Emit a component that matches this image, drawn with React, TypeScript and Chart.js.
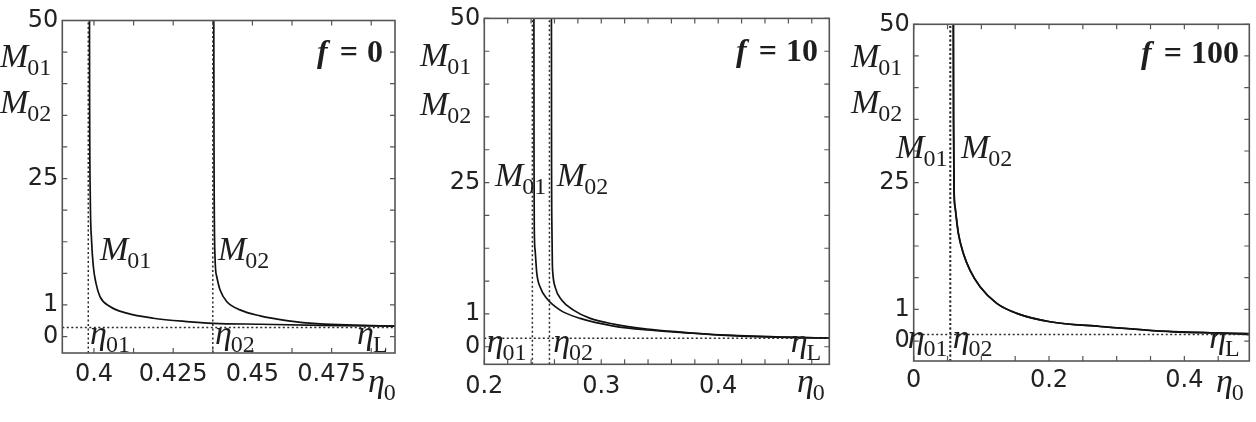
import React, { useEffect, useRef } from "react";
import { Chart, registerables } from "chart.js";

Chart.register(...registerables);

// ---------------- data ----------------
// y axis (M01, M02) is piecewise linear: 0–1, 1–25, 25–50
const Y_TICK_VALUES = [0, 1, 25, 50];
const Y_TICK_LABELS = ["0", "1", "25", "50"];
const Y_MINOR_VALUES = [0, 1, 7, 13, 19, 25, 30, 35, 40, 45, 50];
const Y_MAX = 50;

// panel 1 : f = 0
const P1_X_TICKS = [0.4, 0.4125, 0.425, 0.4375, 0.45, 0.4625, 0.475, 0.4875];
const P1_X_LABELS = ["0.4", "", "0.425", "", "0.45", "", "0.475", ""];
const P1_M01_X = [0.39858, 0.39862, 0.39884, 0.39922, 0.39978, 0.40064, 0.4019, 0.40505, 0.41032, 0.41872, 0.42926, 0.43766, 0.4524, 0.47133, 0.495];
const P1_M01 = [50, 37.5, 21.0, 13.4, 8.4, 5.1, 2.6, 0.95, 0.74, 0.58, 0.475, 0.42, 0.39, 0.355, 0.33];
const P1_M02_X = [0.43781, 0.43788, 0.43819, 0.43873, 0.43977, 0.44188, 0.44608, 0.4524, 0.46082, 0.47133, 0.48184, 0.495];
const P1_M02 = [50, 29.6, 10.2, 6.4, 3.9, 1.66, 0.845, 0.655, 0.507, 0.4, 0.361, 0.335];
const P1_ETA = [0.3982, 0.4375]; // eta01, eta02
const P1_ETA_L = 0.285;

// panel 2 : f = 10
const P2_X_TICKS = [0.2, 0.22, 0.24, 0.26, 0.28, 0.3, 0.32, 0.34, 0.36, 0.38, 0.4, 0.42, 0.44, 0.46, 0.48];
const P2_X_LABELS = ["0.2", "", "", "", "", "0.3", "", "", "", "", "0.4", "", "", "", ""];
const P2_M01_X = [0.24242, 0.2425, 0.24276, 0.24344, 0.2449, 0.24773, 0.25347, 0.26487, 0.282, 0.31054, 0.33916, 0.3677, 0.40197, 0.45913, 0.495];
const P2_M01 = [50, 29.9, 16.3, 12.6, 8.4, 5.9, 3.8, 1.69, 0.863, 0.63, 0.51, 0.44, 0.356, 0.286, 0.265];
const P2_M02_X = [0.25741, 0.2575, 0.25784, 0.25818, 0.25861, 0.26058, 0.26632, 0.27626, 0.29057, 0.31054, 0.33916, 0.3677, 0.40197, 0.45913, 0.495];
const P2_M02 = [50, 29.9, 16.3, 10.4, 8.4, 5.9, 3.5, 1.69, 0.863, 0.69, 0.54, 0.447, 0.36, 0.29, 0.265];
const P2_ETA = [0.2411, 0.2557];
const P2_ETA_L = 0.255;

// panel 3 : f = 100
const P3_X_TICKS = [0, 0.05, 0.1, 0.15, 0.2, 0.25, 0.3, 0.35, 0.4, 0.45];
const P3_X_LABELS = ["0", "", "", "", "0.2", "", "", "", "0.4", ""];
const P3_M01_X = [0.05852, 0.05881, 0.05955, 0.06103, 0.06591, 0.0733, 0.0832, 0.09798, 0.12265, 0.15221, 0.20142, 0.27531, 0.38363, 0.46254, 0.496];
const P3_M01 = [50, 34.9, 23.6, 20.4, 15.4, 11.6, 8.4, 5.3, 2.14, 0.875, 0.61, 0.46, 0.29, 0.243, 0.205];
const P3_M02_X = [0.05872, 0.05901, 0.05975, 0.06123, 0.06611, 0.0735, 0.0834, 0.09818, 0.12285, 0.15241, 0.20162, 0.27551, 0.38363, 0.46254, 0.496];
const P3_M02 = [50, 34.9, 23.6, 20.4, 15.4, 11.6, 8.4, 5.3, 2.14, 0.875, 0.61, 0.46, 0.295, 0.25, 0.235];
const P3_ETA = [0.0537, 0.0545];
const P3_ETA_L = 0.21;

// ---------------- helpers ----------------
const toAxis = (m: number) => (m <= 1 ? m : m <= 25 ? 1 + (m - 1) / 6 : 5 + (m - 25) / 5);
const pts = (xs: number[], ms: number[]) => xs.map((x, i) => ({ x, y: toAxis(ms[i]) }));

type Lbl = { main: string; sub: string; at: "data" | "tl" | "br"; x: number; y: number };

const PANELS = [
  {
    left: 0, w: 418, area: { l: 62.3, t: 20.5, r: 395, b: 353 }, xMin: 0.39, xMax: 0.495, yMin: -0.52, pad: 7,
    xTicks: P1_X_TICKS, xLabels: P1_X_LABELS, m01x: P1_M01_X, m01: P1_M01, m02x: P1_M02_X, m02: P1_M02,
    eta: P1_ETA, etaL: P1_ETA_L, f: "0", fdx: -12, fdy: 41.5,
    labels: [
      { main: "M", sub: "01", at: "tl", x: -62.3, y: 46.2 },
      { main: "M", sub: "02", at: "tl", x: -62.3, y: 92.5 },
      { main: "M", sub: "01", at: "data", x: 0.4019, y: 2.43 },
      { main: "M", sub: "02", at: "data", x: 0.43914, y: 2.43 },
      { main: "η", sub: "01", at: "data", x: 0.39877, y: -0.22 },
      { main: "η", sub: "02", at: "data", x: 0.43819, y: -0.22 },
      { main: "η", sub: "L", at: "data", x: 0.48301, y: -0.22 },
      { main: "η", sub: "0", at: "br", x: -27, y: 39 },
    ] as Lbl[],
  },
  {
    left: 418, w: 418, area: { l: 66.3, t: 17.7, r: 411.3, b: 364.3 }, xMin: 0.2, xMax: 0.495, yMin: -0.535, pad: 8,
    xTicks: P2_X_TICKS, xLabels: P2_X_LABELS, m01x: P2_M01_X, m01: P2_M01, m02x: P2_M02_X, m02: P2_M02,
    eta: P2_ETA, etaL: P2_ETA_L, f: "10", fdx: -11.3, fdy: 42.3,
    labels: [
      { main: "M", sub: "01", at: "tl", x: -64.3, y: 47.3 },
      { main: "M", sub: "02", at: "tl", x: -64.3, y: 97 },
      { main: "M", sub: "01", at: "data", x: 0.20917, y: 4.91 },
      { main: "M", sub: "02", at: "data", x: 0.26204, y: 4.91 },
      { main: "η", sub: "01", at: "data", x: 0.20206, y: -0.16 },
      { main: "η", sub: "02", at: "data", x: 0.25887, y: -0.16 },
      { main: "η", sub: "L", at: "data", x: 0.46195, y: -0.16 },
      { main: "η", sub: "0", at: "br", x: -32.3, y: 27.7 },
    ] as Lbl[],
  },
  {
    left: 836, w: 420, area: { l: 77.7, t: 24.3, r: 413.3, b: 361 }, xMin: 0, xMax: 0.496, yMin: -0.63, pad: 5,
    xTicks: P3_X_TICKS, xLabels: P3_X_LABELS, m01x: P3_M01_X, m01: P3_M01, m02x: P3_M02_X, m02: P3_M02,
    eta: P3_ETA, etaL: P3_ETA_L, f: "100", fdx: -10.3, fdy: 38.7,
    labels: [
      { main: "M", sub: "01", at: "tl", x: -62.7, y: 42.4 },
      { main: "M", sub: "02", at: "tl", x: -62.7, y: 88.5 },
      { main: "M", sub: "01", at: "data", x: -0.026, y: 5.78 },
      { main: "M", sub: "02", at: "data", x: 0.0699, y: 5.78 },
      { main: "η", sub: "01", at: "data", x: -0.0089, y: -0.22 },
      { main: "η", sub: "02", at: "data", x: 0.0576, y: -0.22 },
      { main: "η", sub: "L", at: "data", x: 0.4368, y: -0.22 },
      { main: "η", sub: "0", at: "br", x: -33.3, y: 31 },
    ] as Lbl[],
  },
];

const SERIF = '"Liberation Serif", "Times New Roman", serif';
const INK = "#1e1e1e";

function drawSub(ctx: CanvasRenderingContext2D, x: number, y: number, main: string, sub: string) {
  ctx.font = `italic 34px ${SERIF}`;
  ctx.textAlign = "left";
  ctx.textBaseline = "alphabetic";
  ctx.fillText(main, x, y);
  const w = ctx.measureText(main).width;
  ctx.font = `24px ${SERIF}`;
  ctx.fillText(sub, x + w - 1, y + 8);
}

function drawF(ctx: CanvasRenderingContext2D, right: number, base: number, num: string) {
  ctx.textBaseline = "alphabetic";
  ctx.textAlign = "right";
  ctx.font = `bold 32px ${SERIF}`;
  ctx.fillText(num, right, base);
  const wn = ctx.measureText(num).width;
  const eqRight = right - wn - 9;
  ctx.fillText("=", eqRight, base);
  const we = ctx.measureText("=").width;
  ctx.font = `bold italic 32px ${SERIF}`;
  ctx.fillText("f", eqRight - we - 12, base);
}

function makeConfig(p: (typeof PANELS)[number]): any {
  const yMinA = toAxis(p.yMin);
  const yMaxA = toAxis(Y_MAX);
  const dotted = (data: { x: number; y: number }[]) => ({
    data, borderColor: "#2a2a2a", borderWidth: 1.5, borderDash: [2, 2.5], pointRadius: 0, fill: false, tension: 0,
  });
  const solid = (data: { x: number; y: number }[]) => ({
    data, borderColor: "#111", borderWidth: 1.7, pointRadius: 0, fill: false, cubicInterpolationMode: "monotone",
  });
  const lvl = toAxis(p.etaL);
  const plugin = {
    id: "frameTicksLabels",
    afterDraw(chart: any) {
      const { ctx, chartArea: a, scales } = chart;
      const x = scales.x, y = scales.y;
      ctx.save();
      ctx.strokeStyle = "#555";
      ctx.lineWidth = 1.6;
      ctx.strokeRect(a.left, a.top, a.right - a.left, a.bottom - a.top);
      ctx.lineWidth = 1.2;
      ctx.beginPath();
      for (const t of x.ticks) {
        const px = x.getPixelForValue(t.value);
        ctx.moveTo(px, a.bottom); ctx.lineTo(px, a.bottom - 5);
        ctx.moveTo(px, a.top); ctx.lineTo(px, a.top + 5);
      }
      for (const t of y.ticks) {
        const py = y.getPixelForValue(t.value);
        ctx.moveTo(a.left, py); ctx.lineTo(a.left + 5, py);
        ctx.moveTo(a.right, py); ctx.lineTo(a.right - 5, py);
      }
      ctx.stroke();
      ctx.fillStyle = INK;
      for (const l of p.labels) {
        let px = 0, py = 0;
        if (l.at === "data") { px = x.getPixelForValue(l.x); py = y.getPixelForValue(l.y); }
        else if (l.at === "tl") { px = a.left + l.x; py = a.top + l.y; }
        else { px = a.right + l.x; py = a.bottom + l.y; }
        drawSub(ctx, px, py, l.main, l.sub);
      }
      drawF(ctx, a.right + p.fdx, a.top + p.fdy, p.f);
      ctx.restore();
    },
  };
  return {
    type: "line",
    data: {
      datasets: [
        ...p.eta.map((e) => dotted([{ x: e, y: yMinA }, { x: e, y: yMaxA }])),
        dotted([{ x: p.xMin, y: lvl }, { x: p.xMax, y: lvl }]),
        solid(pts(p.m01x, p.m01)),
        solid(pts(p.m02x, p.m02)),
      ],
    },
    options: {
      responsive: false,
      animation: false,
      layout: { padding: { left: 0, top: p.area.t, right: p.w - p.area.r, bottom: 0 } },
      plugins: { legend: { display: false }, tooltip: { enabled: false } },
      scales: {
        x: {
          type: "linear", min: p.xMin, max: p.xMax,
          grid: { display: false, drawTicks: false }, border: { display: false },
          afterBuildTicks: (s: any) => { s.ticks = p.xTicks.map((v) => ({ value: v })); },
          afterFit: (s: any) => { s.height = 422 - p.area.b; },
          ticks: {
            autoSkip: false, maxRotation: 0, minRotation: 0, padding: p.pad, color: "#222",
            font: { family: '"DejaVu Sans", sans-serif', size: 24 },
            callback: (_v: any, i: number) => p.xLabels[i] ?? "",
          },
        },
        y: {
          type: "linear", min: yMinA, max: yMaxA,
          grid: { display: false, drawTicks: false }, border: { display: false },
          afterBuildTicks: (s: any) => { s.ticks = Y_MINOR_VALUES.map((v) => ({ value: toAxis(v) })); },
          afterFit: (s: any) => { s.width = p.area.l; },
          ticks: {
            autoSkip: false, padding: 4, color: "#222",
            font: { family: '"DejaVu Sans", sans-serif', size: 24 },
            callback: (v: number) => {
              const i = Y_TICK_VALUES.findIndex((t) => Math.abs(toAxis(t) - v) < 1e-9);
              return i >= 0 ? Y_TICK_LABELS[i] : "";
            },
          },
        },
      },
    },
    plugins: [plugin],
  };
}

function Panel({ p }: { p: (typeof PANELS)[number] }) {
  const ref = useRef<HTMLCanvasElement>(null);
  useEffect(() => {
    const chart = new Chart(ref.current as HTMLCanvasElement, makeConfig(p));
    return () => chart.destroy();
  }, [p]);
  return (
    <canvas
      ref={ref}
      width={p.w}
      height={422}
      style={{ position: "absolute", left: p.left, top: 0, width: p.w, height: 422 }}
    />
  );
}

export default function App() {
  return (
    <div style={{ position: "absolute", left: 0, top: 0, width: 1256, height: 422, background: "#fff", overflow: "hidden" }}>
      {PANELS.map((p, i) => (
        <Panel key={i} p={p} />
      ))}
    </div>
  );
}
